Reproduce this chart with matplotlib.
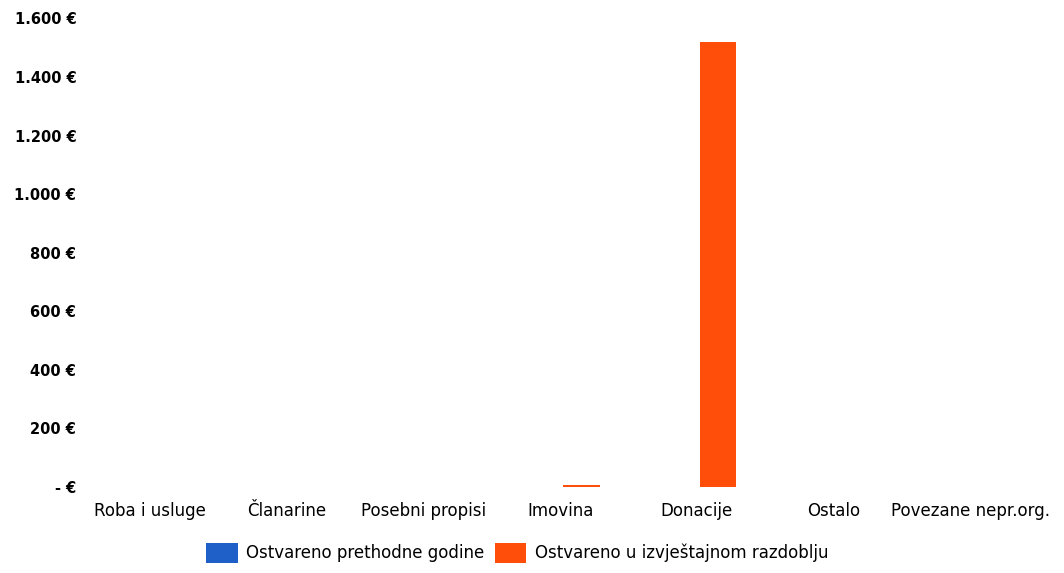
import matplotlib
matplotlib.use("Agg")
import matplotlib.pyplot as plt
import numpy as np
from matplotlib.ticker import FuncFormatter

# Data
categories = ['Roba i usluge', 'Članarine', 'Posebni propisi', 'Imovina',
              'Donacije', 'Ostalo', 'Povezane nepr.org.']
prev_year = [0, 0, 0, 0, 0, 0, 0]
current_period = [0, 0, 0, 6, 1520, 0, 0]
series_names = ['Ostvareno prethodne godine', 'Ostvareno u izvještajnom razdoblju']
y_ticks = [0, 200, 400, 600, 800, 1000, 1200, 1400, 1600]


def euro_fmt(v, pos):
    # Croatian style: dot as thousands separator, dash for zero
    if v == 0:
        return '- €'
    return f'{int(v):,} €'.replace(',', '.')


fig = plt.figure(figsize=(10.64, 5.73), dpi=100)
ax = fig.add_axes([0.077, 0.15, 0.899, 0.818])

x = np.arange(len(categories))
width = 0.27
blue = '#1f5fc8'
orange = '#ff4d0a'
ax.bar(x - width / 2 + 0.02, prev_year, width, color=blue, label=series_names[0])
ax.bar(x + width / 2 + 0.02, current_period, width, color=orange, label=series_names[1])

ax.set_xlim(-0.5, len(categories) - 0.5)
ax.set_ylim(0, 1600)
ax.set_yticks(y_ticks)
ax.yaxis.set_major_formatter(FuncFormatter(euro_fmt))
ax.set_xticks(x)
ax.set_xticklabels(categories)

for s in ax.spines.values():
    s.set_visible(False)
ax.tick_params(axis='both', length=0)
ax.tick_params(axis='y', labelsize=10.5, pad=4)
ax.tick_params(axis='x', labelsize=12, pad=11)
for lbl in ax.get_yticklabels():
    lbl.set_fontweight('bold')

ax.legend(loc='upper center', bbox_to_anchor=(0.455, -0.088), ncol=2,
          frameon=False, fontsize=12, handlelength=1.9, handleheight=1.4,
          handletextpad=0.5, columnspacing=0.6)

fig.savefig('out.png', dpi=100)
